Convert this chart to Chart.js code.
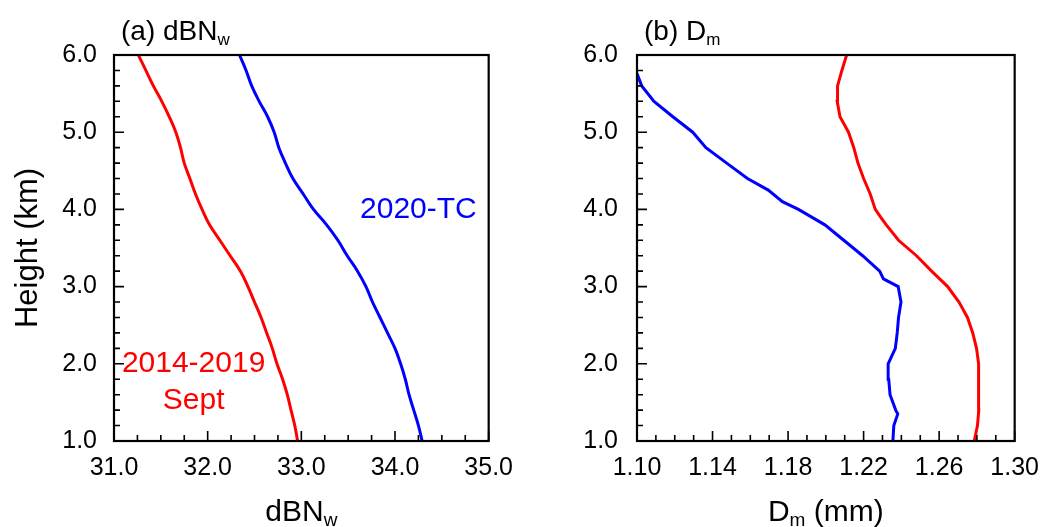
<!DOCTYPE html>
<html>
<head>
<meta charset="utf-8">
<script src="https://cdn.jsdelivr.net/npm/chart.js@4.4.1/dist/chart.umd.min.js"></script>
<style>
  html, body { margin: 0; padding: 0; background: #fff; }
  #wrap { position: relative; width: 1051px; height: 527px; }
  .panel { position: absolute; top: 0; height: 527px; }
</style>
</head>
<body>
<div id="wrap">
  <div class="panel" style="left:0;width:525px"><canvas id="dbnwChart" width="525" height="527"></canvas></div>
  <div class="panel" style="left:525px;width:526px"><canvas id="dmChart" width="526" height="527"></canvas></div>
</div>
<script>
// ── profiles, height in km
const dbnwHeight = [1.0, 1.2, 1.4, 1.6, 1.8, 2.0, 2.2, 2.4, 2.6, 2.8, 3.0, 3.2, 3.4,
                    3.6, 3.8, 4.0, 4.2, 4.4, 4.6, 4.8, 5.0, 5.2, 5.4, 5.6, 5.8, 6.0];
const dbnwSept = [32.96, 32.93, 32.89, 32.85, 32.80, 32.74, 32.69, 32.63, 32.57, 32.50, 32.43, 32.35, 32.24,
                  32.13, 32.02, 31.94, 31.87, 31.81, 31.75, 31.71, 31.66, 31.59, 31.51, 31.42, 31.34, 31.26];
const dbnwTC   = [34.29, 34.25, 34.20, 34.15, 34.11, 34.06, 34.00, 33.92, 33.84, 33.76, 33.69, 33.60, 33.49,
                  33.39, 33.27, 33.13, 33.02, 32.91, 32.83, 32.76, 32.71, 32.64, 32.55, 32.47, 32.41, 32.34];

const dmSeptHeight = [1.0, 1.2, 1.4, 1.6, 1.8, 2.0, 2.2, 2.4, 2.6, 2.8, 3.0, 3.2, 3.4, 3.6,
                      3.8, 3.9, 4.0, 4.2, 4.4, 4.6, 4.8, 5.0, 5.2, 5.4, 5.6, 5.8, 6.0];
const dmSept = [1.2786, 1.2803, 1.2810, 1.2811, 1.2810, 1.2806, 1.2798, 1.2778, 1.2750, 1.2705, 1.2645, 1.2560, 1.2480, 1.2385,
                1.2320, 1.2290, 1.2262, 1.2235, 1.2200, 1.2170, 1.2148, 1.2120, 1.2075, 1.2060, 1.2062, 1.2085, 1.2110];

const dmTCHeight = [1.0, 1.2, 1.35, 1.4, 1.6, 1.8, 2.0, 2.2, 2.4, 2.6, 2.8, 3.0, 3.1, 3.2,
                    3.4, 3.6, 3.8, 4.0, 4.1, 4.25, 4.4, 4.6, 4.8, 5.0, 5.2, 5.4, 5.6, 5.76];
const dmTC = [1.2355, 1.2360, 1.2381, 1.2370, 1.2340, 1.2333, 1.2330, 1.2368, 1.2378, 1.2385, 1.2398, 1.2383, 1.2305, 1.2285,
              1.2195, 1.2095, 1.1995, 1.1855, 1.1770, 1.1695, 1.1585, 1.1475, 1.1365, 1.1295, 1.1190, 1.1090, 1.1025, 1.1000];

// ── axis ticks
const heightTicks = [1, 2, 3, 4, 5, 6];
const dbnwTicks = [31, 32, 33, 34, 35];
const dmTicks = [1.10, 1.14, 1.18, 1.22, 1.26, 1.30];

// ── in-plot labels (data coords)
const dbnwLabels = [
  { text: "2020-TC",   x: 34.25, y: 4.0,  color: "#0000ff" },
  { text: "2014-2019", x: 31.85, y: 2.0,  color: "#ff0000" },
  { text: "Sept",      x: 31.85, y: 1.52, color: "#ff0000" }
];

const FONT = "'Liberation Sans', Arial, Helvetica, sans-serif";
const RED = "#ff0000", BLUE = "#0000ff";

const toXY = (xs, ys) => xs.map((v, i) => ({ x: v, y: ys[i] }));

// text with subscript pieces: parts = [[text, isSub], ...]
function drawRich(ctx, parts, x, y, align, size) {
  const subSize = Math.round(size * 0.62);
  let w = 0;
  parts.forEach(([t, s]) => { ctx.font = `${s ? subSize : size}px ${FONT}`; w += ctx.measureText(t).width; });
  let cx = align === "center" ? x - w / 2 : x;
  ctx.textAlign = "left";
  ctx.textBaseline = "alphabetic";
  parts.forEach(([t, s]) => {
    ctx.font = `${s ? subSize : size}px ${FONT}`;
    ctx.fillText(t, cx, s ? y + size * 0.18 : y);
    cx += ctx.measureText(t).width;
  });
}

// frame, inward ticks, titles and labels
const panelDecor = {
  id: "panelDecor",
  afterDatasetsDraw(chart, args, o) {
    const { ctx, chartArea: a, scales: { x, y } } = chart;
    ctx.save();
    ctx.strokeStyle = "#000";
    ctx.lineWidth = 1.6;
    ctx.beginPath();
    const ny = Math.round((y.max - y.min) / o.yMinor);
    for (let i = 0; i <= ny; i++) {
      const py = y.getPixelForValue(y.min + i * o.yMinor);
      const len = i % o.yEvery === 0 ? 10 : 6;
      ctx.moveTo(a.left, py); ctx.lineTo(a.left + len, py);
    }
    const nx = Math.round((x.max - x.min) / o.xMinor);
    for (let i = 0; i <= nx; i++) {
      const px = x.getPixelForValue(x.min + i * o.xMinor);
      const len = i % o.xEvery === 0 ? 10 : 6;
      ctx.moveTo(px, a.bottom); ctx.lineTo(px, a.bottom - len);
    }
    ctx.stroke();
    ctx.lineWidth = 2.2;
    ctx.strokeRect(a.left, a.top, a.right - a.left, a.bottom - a.top);

    ctx.fillStyle = "#000";
    drawRich(ctx, o.title, a.left + 7, a.top - 15, "left", 28);
    drawRich(ctx, o.xTitle, (a.left + a.right) / 2, a.bottom + 80, "center", 30);
    if (o.yTitle) {
      ctx.save();
      ctx.translate(28, (a.top + a.bottom) / 2);
      ctx.rotate(-Math.PI / 2);
      ctx.font = `31px ${FONT}`;
      ctx.textAlign = "center";
      ctx.textBaseline = "middle";
      ctx.fillText(o.yTitle, 0, 0);
      ctx.restore();
    }
    (o.labels || []).forEach(l => {
      ctx.fillStyle = l.color;
      ctx.font = `30px ${FONT}`;
      ctx.textAlign = "center";
      ctx.textBaseline = "middle";
      ctx.fillText(l.text, x.getPixelForValue(l.x), y.getPixelForValue(l.y));
    });
    ctx.restore();
  }
};

function makePanel(id, cfg) {
  const ctx = document.getElementById(id).getContext("2d");
  return new Chart(ctx, {
    type: "line",
    data: { datasets: cfg.datasets },
    options: {
      responsive: false,
      animation: false,
      events: [],
      layout: { autoPadding: false, padding: { top: 55, right: cfg.padRight, left: 0, bottom: 0 } },
      plugins: { legend: { display: false }, tooltip: { enabled: false }, panelDecor: cfg.decor },
      scales: {
        x: {
          type: "linear", min: cfg.xTicks[0], max: cfg.xTicks[cfg.xTicks.length - 1],
          afterBuildTicks: s => { s.ticks = cfg.xTicks.map(v => ({ value: v })); },
          afterFit: s => { s.height = 86; },
          grid: { display: false, drawTicks: false },
          border: { display: false },
          ticks: { padding: 12, color: "#000", font: { family: FONT, size: 25 }, maxRotation: 0,
                   callback: v => v.toFixed(cfg.xDigits) }
        },
        y: {
          type: "linear", min: 1, max: 6,
          afterBuildTicks: s => { s.ticks = heightTicks.map(v => ({ value: v })); },
          afterFit: s => { s.width = cfg.yWidth; },
          grid: { display: false, drawTicks: false },
          border: { display: false },
          ticks: { padding: cfg.yPad, color: "#000", font: { family: FONT, size: 25 },
                   callback: v => v.toFixed(1) }
        }
      }
    },
    plugins: [panelDecor]
  });
}

const lineStyle = (color, tension) => ({
  borderColor: color, borderWidth: 3, pointRadius: 0, fill: false, tension
});

makePanel("dbnwChart", {
  xTicks: dbnwTicks, xDigits: 1, yWidth: 114, yPad: 17, padRight: 22,
  datasets: [
    { data: toXY(dbnwSept, dbnwHeight), ...lineStyle(RED, 0.4) },
    { data: toXY(dbnwTC, dbnwHeight), ...lineStyle(BLUE, 0.4) }
  ],
  decor: {
    yMinor: 0.2, yEvery: 5, xMinor: 0.25, xEvery: 4,
    title: [["(a) dBN", false], ["w", true]],
    xTitle: [["dBN", false], ["w", true]],
    yTitle: "Height (km)",
    labels: dbnwLabels
  }
});

makePanel("dmChart", {
  xTicks: dmTicks, xDigits: 2, yWidth: 112, yPad: 19, padRight: 26,
  datasets: [
    { data: toXY(dmSept, dmSeptHeight), ...lineStyle(RED, 0) },
    { data: toXY(dmTC, dmTCHeight), ...lineStyle(BLUE, 0) }
  ],
  decor: {
    yMinor: 0.2, yEvery: 5, xMinor: 0.01, xEvery: 4,
    title: [["(b) D", false], ["m", true]],
    xTitle: [["D", false], ["m", true], [" (mm)", false]]
  }
});
</script>
</body>
</html>
